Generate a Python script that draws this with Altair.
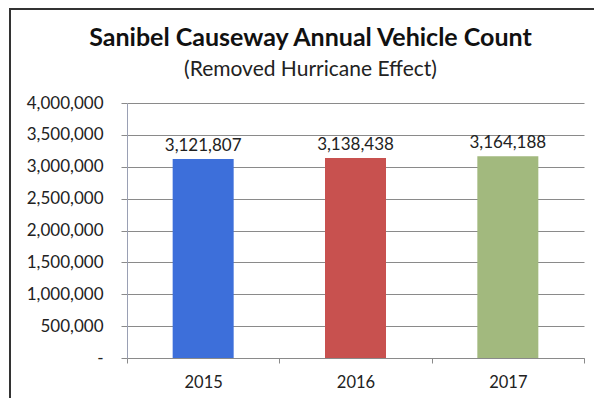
import altair as alt
import pandas as pd

years = ["2015", "2016", "2017"]
counts = [3121807, 3138438, 3164188]
bar_colors = ["#3d6fda", "#c8514f", "#a2b97e"]
y_ticks = [0, 500000, 1000000, 1500000, 2000000, 2500000, 3000000, 3500000, 4000000]

df = pd.DataFrame({"year": years, "vehicles": counts, "color": bar_colors})

FONT = "Lato"

x_enc = alt.X("year:N", sort=years,
              scale=alt.Scale(paddingInner=0, paddingOuter=0),
              axis=alt.Axis(title=None, tickBand="extent", labelAngle=0,
                            labelFontSize=16.5, labelColor="#222222", labelFont=FONT,
                            tickSize=5, tickColor="#8a8a8a", domainColor="#8a8a8a",
                            labelPadding=11, grid=False))
y_enc = alt.Y("vehicles:Q", scale=alt.Scale(domain=[0, 4000000], nice=False),
              axis=alt.Axis(title=None, values=y_ticks, labelOverlap=False,
                            labelExpr="datum.value == 0 ? '-\u00a0\u00a0\u00a0' : format(datum.value, ',.0f')",
                            labelFontSize=17, labelColor="#222222", labelFont=FONT,
                            tickSize=6, tickColor="#8a8a8a", domainColor="#9aa0b4",
                            labelPadding=18, grid=True, gridColor="#8a8a8a",
                            gridWidth=1))

base = alt.Chart(df).encode(x=x_enc, y=y_enc)

bars = base.mark_bar(size=61).encode(
    color=alt.Color("color:N", scale=None),
)

labels = base.mark_text(baseline="bottom", dy=-4, fontSize=17,
                        font=FONT, color="#222222").encode(
    text=alt.Text("vehicles:Q", format=",.0f"),
)

frame_left = alt.Chart(df).mark_rule(color="#333333", strokeWidth=2).encode(
    x=alt.value(-117), y=alt.value(-95), y2=alt.value(320))
frame_top = alt.Chart(df).mark_rule(color="#333333", strokeWidth=2).encode(
    x=alt.value(-117), x2=alt.value(480), y=alt.value(-94))

chart = alt.layer(bars, labels, frame_left, frame_top).properties(
    width=457, height=255,
    title=alt.TitleParams(
        text="Sanibel Causeway Annual Vehicle Count",
        subtitle="(Removed Hurricane Effect)",
        font=FONT, fontSize=25, fontWeight="bold", color="#111111",
        subtitleFont=FONT, subtitleFontSize=21, subtitleColor="#222222",
        anchor="middle", frame="group", dx=-45, offset=-73, subtitlePadding=8,
    ),
    autosize=alt.AutoSizeParams(type="none"),
    padding={"left": 119, "top": 95, "right": 10, "bottom": 40},
).configure_view(stroke=None)

chart.save("out.html", embed_options={"renderer": "svg", "actions": False})
